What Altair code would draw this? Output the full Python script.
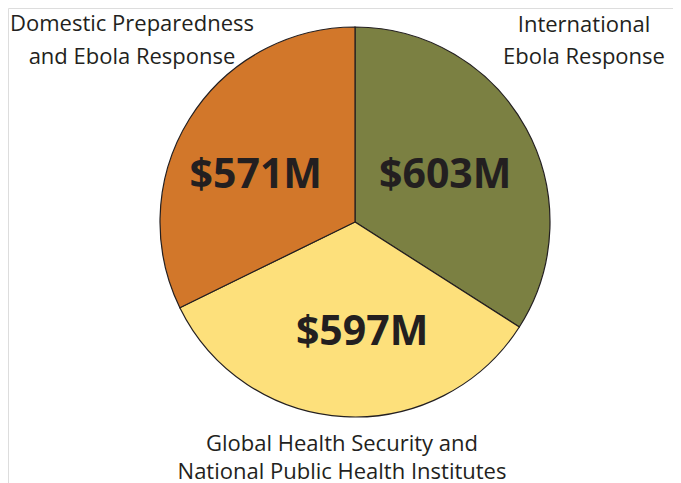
import altair as alt
import pandas as pd

categories = ["International Ebola Response", "Global Health Security", "Domestic Preparedness"]
values = [603, 597, 571]
value_labels = ["$603M", "$597M", "$571M"]
colors = ["#7b8042", "#fde07b", "#d2772a"]

outer_line1 = ["International", "Global Health Security and", "Domestic Preparedness"]
outer_line2 = ["Ebola Response", "National Public Health Institutes", "and Ebola Response"]

df = pd.DataFrame({
    "category": categories,
    "value": values,
    "label": value_labels,
    "order": [0, 1, 2],
    "line1": outer_line1,
    "line2": outer_line2,
})

W, H = 665, 475
CX, CY, R = 347, 214, 195
font = "Open Sans"
tcol = "#231f20"
fs = 22
total = float(sum(values))

pie = alt.Chart(df).mark_arc(radius=R, stroke="#231f20", strokeWidth=1.2).encode(
    theta=alt.Theta("value:Q", stack=True),
    order=alt.Order("order:Q"),
    x=alt.value(CX), y=alt.value(CY),
    color=alt.Color("category:N", scale=alt.Scale(domain=categories, range=colors), legend=None),
)

# label offsets (dx, dy) per slice, in pixels
offsets = {"International Ebola Response": (-1, 4),
           "Global Health Security": (13, 7),
           "Domestic Preparedness": (-11, 9)}

layers = [pie]
for cat in categories:
    dx, dy = offsets[cat]
    layers.append(
        alt.Chart(df)
        .transform_window(cum="sum(value)", sort=[alt.SortField("order")])
        .transform_calculate(mid="datum.cum - datum.value / 2")
        .transform_filter(alt.datum.category == cat)
        .mark_text(radius=104, font=font, fontSize=41, fontWeight="bold",
                   color=tcol, align="center", baseline="middle", dx=dx, dy=dy)
        .encode(
            theta=alt.Theta("mid:Q", stack=None, scale=alt.Scale(domain=[0, total])),
            x=alt.value(CX), y=alt.value(CY),
            text="label:N",
        )
    )

# outer labels: (x, baseline y of line1, baseline y of line2)
outer_pos = {"Domestic Preparedness": (124, 23, 56),
             "International Ebola Response": (576, 24, 56),
             "Global Health Security": (334, 443, 471)}

for cat in categories:
    x, y1, y2 = outer_pos[cat]
    sub = df[df.category == cat]
    for field, yy in (("line1", y1), ("line2", y2)):
        layers.append(
            alt.Chart(sub).mark_text(font=font, fontSize=fs, color=tcol,
                                     align="center", baseline="alphabetic")
            .encode(x=alt.value(x), y=alt.value(yy), text=f"{field}:N")
        )

chart = alt.layer(*layers).resolve_scale(theta="independent").properties(
    width=W, height=H, autosize=alt.AutoSizeParams(type="none"), padding=0
).configure_view(strokeWidth=0, stroke="transparent").configure(background="transparent")

chart.save("out.html", embed_options={"renderer": "svg", "actions": False})
